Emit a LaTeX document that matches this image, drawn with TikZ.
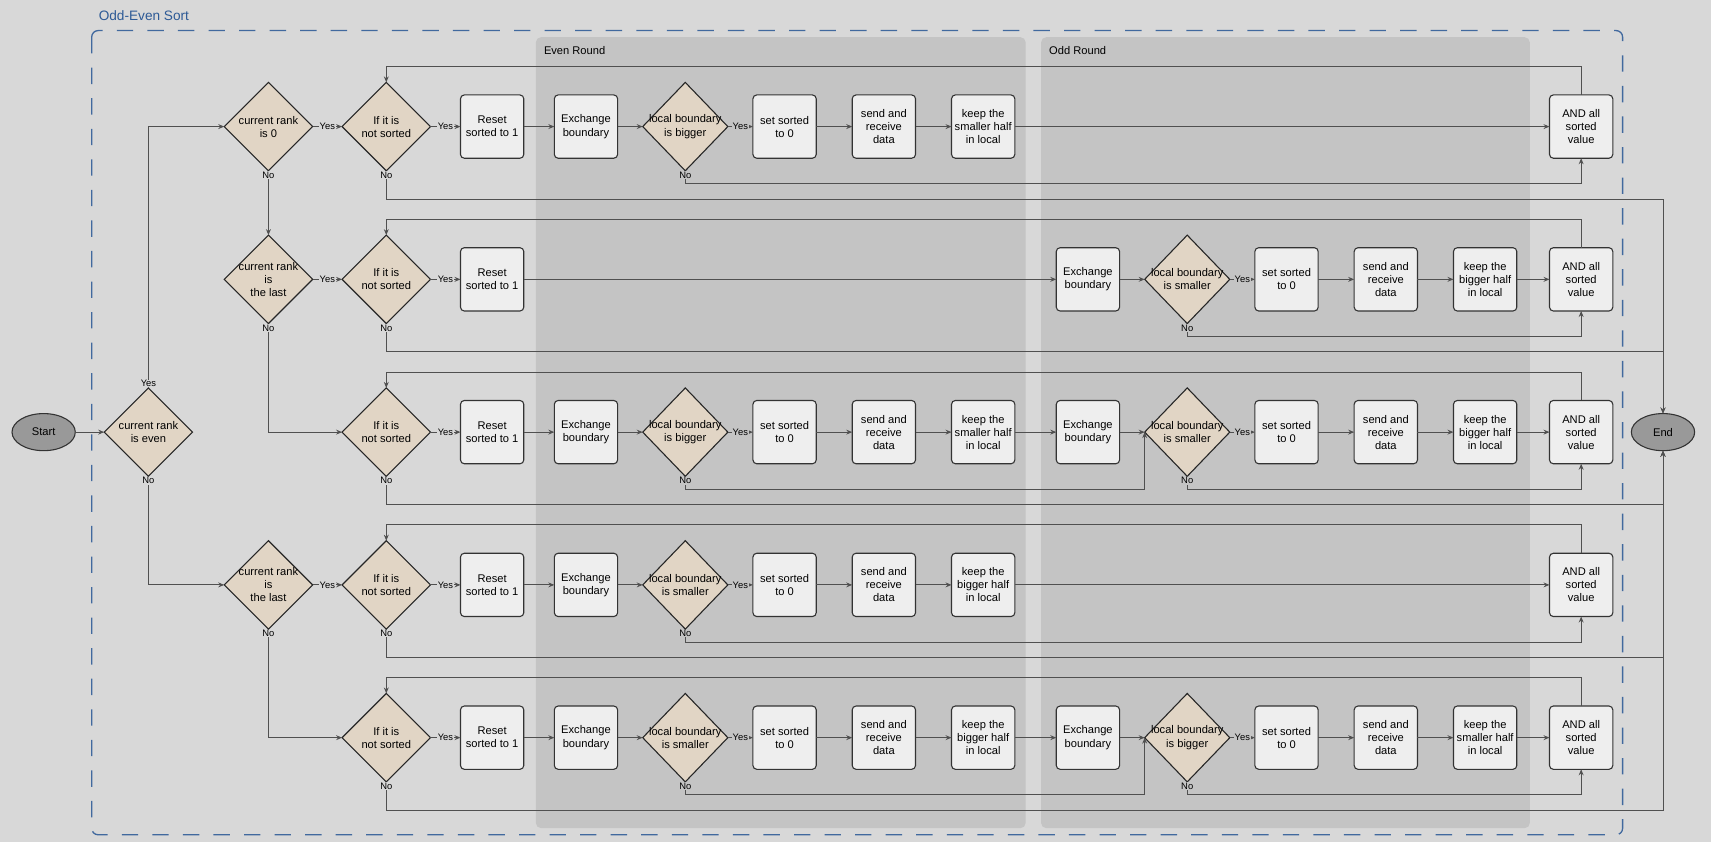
\documentclass[tikz,border=0pt]{standalone}
\usepackage{fontspec}
\setmainfont{Liberation Sans}
\usepackage{tikz}
\usetikzlibrary{positioning, arrows.meta, shapes}

\definecolor{bgc}{HTML}{D8D8D8}
\definecolor{panelc}{HTML}{C4C4C4}
\definecolor{boxc}{HTML}{EEEEEE}
\definecolor{decc}{HTML}{E1D5C5}
\definecolor{termc}{HTML}{999999}
\definecolor{linec}{HTML}{505050}
\definecolor{dashc}{HTML}{41699E}
\definecolor{titlec}{HTML}{2D5A96}

\tikzset{
	box/.style={rectangle, rounded corners=3.5pt, draw=black!80, line width=1pt, fill=boxc, minimum width=58, minimum height=58, inner sep=1pt, outer sep=0pt, align=center, font=\fontsize{10.2}{12}\selectfont},
	dec/.style={diamond, draw=black!85, line width=1pt, fill=decc, minimum width=81, minimum height=81, inner sep=-12pt, outer sep=0pt, align=center, font=\fontsize{10.2}{12}\selectfont},
	decb/.style={dec, minimum width=78},
	term/.style={ellipse, draw=black!80, line width=1pt, fill=termc, minimum width=58, minimum height=34, inner sep=0pt, outer sep=0pt, font=\fontsize{10.2}{12}\selectfont},
	link/.style={-{Stealth[length=5.5pt, width=4.5pt, inset=1.8pt]}, draw=linec, line width=0.9pt},
	lbl/.style={font=\fontsize{8.6}{9}\selectfont, inner sep=0.6pt, fill=bgc},
	lblp/.style={lbl, fill=panelc}
}

\begin{document}
\begin{tikzpicture}[x=1pt, y=-1pt]
		
		%Sfondo, round e cornice
		\fill[bgc] (0,0) rectangle (1568,772);
		\useasboundingbox (0,0) rectangle (1568,772);
		\fill[panelc, rounded corners=5pt] (491,34) rectangle (940,759);
		\fill[panelc, rounded corners=5pt] (954,34) rectangle (1402,759);
		\draw[dashc, line width=1.2pt, dash pattern=on 15pt off 13pt, rounded corners=6pt] (84,28) rectangle (1487,765);
		\node(Title) at (87,14) [anchor=west, text=titlec, font=\fontsize{12.5}{14}\selectfont]{Odd-Even Sort};
		\node(EvenRound) at (495,46) [anchor=west, font=\fontsize{10.2}{12}\selectfont]{Even Round};
		\node(OddRound) at (958,46) [anchor=west, font=\fontsize{10.2}{12}\selectfont]{Odd Round};
		
		%Inizio e fine
		\node(Start) at (40,396) [term]{Start};
		\node(End) at (1524,396) [term]{End};
		\node(RankEven) at (136,396) [dec]{current rank\\is even};
		
		%Prima riga
		\node(RankZero) at (246,116) [dec]{current rank\\is 0};
		\node(NotSorted1) at (354,116) [dec]{If it is\\not sorted};
		\node(Reset1) at (451,116) [box]{Reset\\sorted to 1};
		\node(ExchEven1) at (537,116) [box]{Exchange\\boundary};
		\node(CheckEven1) at (628,116) [decb]{local boundary\\is bigger};
		\node(SetEven1) at (719,116) [box]{set sorted\\to 0};
		\node(SendEven1) at (810,116) [box]{send and\\receive\\data};
		\node(KeepEven1) at (901,116) [box]{keep the\\smaller half\\in local};
		\node(And1) at (1449,116) [box]{AND all\\sorted\\value};
		
		%Seconda riga
		\node(RankLast2) at (246,256) [dec]{current rank\\is\\the last};
		\node(NotSorted2) at (354,256) [dec]{If it is\\not sorted};
		\node(Reset2) at (451,256) [box]{Reset\\sorted to 1};
		\node(ExchOdd2) at (997,256) [box]{Exchange\\boundary};
		\node(CheckOdd2) at (1088,256) [decb]{local boundary\\is smaller};
		\node(SetOdd2) at (1179,256) [box]{set sorted\\to 0};
		\node(SendOdd2) at (1270,256) [box]{send and\\receive\\data};
		\node(KeepOdd2) at (1361,256) [box]{keep the\\bigger half\\in local};
		\node(And2) at (1449,256) [box]{AND all\\sorted\\value};
		
		%Terza riga
		\node(NotSorted3) at (354,396) [dec]{If it is\\not sorted};
		\node(Reset3) at (451,396) [box]{Reset\\sorted to 1};
		\node(ExchEven3) at (537,396) [box]{Exchange\\boundary};
		\node(CheckEven3) at (628,396) [decb]{local boundary\\is bigger};
		\node(SetEven3) at (719,396) [box]{set sorted\\to 0};
		\node(SendEven3) at (810,396) [box]{send and\\receive\\data};
		\node(KeepEven3) at (901,396) [box]{keep the\\smaller half\\in local};
		\node(ExchOdd3) at (997,396) [box]{Exchange\\boundary};
		\node(CheckOdd3) at (1088,396) [decb]{local boundary\\is smaller};
		\node(SetOdd3) at (1179,396) [box]{set sorted\\to 0};
		\node(SendOdd3) at (1270,396) [box]{send and\\receive\\data};
		\node(KeepOdd3) at (1361,396) [box]{keep the\\bigger half\\in local};
		\node(And3) at (1449,396) [box]{AND all\\sorted\\value};
		
		%Quarta riga
		\node(RankLast4) at (246,536) [dec]{current rank\\is\\the last};
		\node(NotSorted4) at (354,536) [dec]{If it is\\not sorted};
		\node(Reset4) at (451,536) [box]{Reset\\sorted to 1};
		\node(ExchEven4) at (537,536) [box]{Exchange\\boundary};
		\node(CheckEven4) at (628,536) [decb]{local boundary\\is smaller};
		\node(SetEven4) at (719,536) [box]{set sorted\\to 0};
		\node(SendEven4) at (810,536) [box]{send and\\receive\\data};
		\node(KeepEven4) at (901,536) [box]{keep the\\bigger half\\in local};
		\node(And4) at (1449,536) [box]{AND all\\sorted\\value};
		
		%Quinta riga
		\node(NotSorted5) at (354,676) [dec]{If it is\\not sorted};
		\node(Reset5) at (451,676) [box]{Reset\\sorted to 1};
		\node(ExchEven5) at (537,676) [box]{Exchange\\boundary};
		\node(CheckEven5) at (628,676) [decb]{local boundary\\is smaller};
		\node(SetEven5) at (719,676) [box]{set sorted\\to 0};
		\node(SendEven5) at (810,676) [box]{send and\\receive\\data};
		\node(KeepEven5) at (901,676) [box]{keep the\\bigger half\\in local};
		\node(ExchOdd5) at (997,676) [box]{Exchange\\boundary};
		\node(CheckOdd5) at (1088,676) [decb]{local boundary\\is bigger};
		\node(SetOdd5) at (1179,676) [box]{set sorted\\to 0};
		\node(SendOdd5) at (1270,676) [box]{send and\\receive\\data};
		\node(KeepOdd5) at (1361,676) [box]{keep the\\smaller half\\in local};
		\node(And5) at (1449,676) [box]{AND all\\sorted\\value};
		
		%Collegamenti di scelta del rank
		\draw[link] (Start) -- (RankEven);
		\draw[link] (RankEven.north) |- node[lbl, at start, above]{Yes} (RankZero.west);
		\draw[link] (RankEven.south) |- node[lbl, at start, below]{No} (RankLast4.west);
		\draw[link] (RankZero) -- node[lbl]{Yes} (NotSorted1);
		\draw[link] (RankZero.south) -- node[lbl, at start, below]{No} (RankLast2.north);
		\draw[link] (RankLast2) -- node[lbl]{Yes} (NotSorted2);
		\draw[link] (RankLast2.south) |- node[lbl, at start, below]{No} (NotSorted3.west);
		\draw[link] (RankLast4) -- node[lbl]{Yes} (NotSorted4);
		\draw[link] (RankLast4.south) |- node[lbl, at start, below]{No} (NotSorted5.west);
		
		%Collegamenti comuni a tutte le righe
		\foreach \i/\e in {1/north, 2/north, 3/south, 4/south, 5/south}{
			\draw[link] (NotSorted\i) -- node[lbl]{Yes} (Reset\i);
			\draw[link] (NotSorted\i.south) -- node[lbl, at start, below]{No} ++(0,26) -| (End.\e);
			\draw[link] (And\i.north) -- ++(0,-26) -| (NotSorted\i.north);
		}
		
		%Round pari
		\foreach \i in {1,3,4,5}{
			\draw[link] (Reset\i) -- (ExchEven\i);
			\draw[link] (ExchEven\i) -- (CheckEven\i);
			\draw[link] (CheckEven\i) -- node[lblp]{Yes} (SetEven\i);
			\draw[link] (SetEven\i) -- (SendEven\i);
			\draw[link] (SendEven\i) -- (KeepEven\i);
		}
		\draw[link] (KeepEven1) -- (And1);
		\draw[link] (KeepEven4) -- (And4);
		\draw[link] (KeepEven3) -- (ExchOdd3);
		\draw[link] (KeepEven5) -- (ExchOdd5);
		\draw[link] (CheckEven1.south) -- node[lblp, at start, below]{No} ++(0,12) -| (And1.south);
		\draw[link] (CheckEven4.south) -- node[lblp, at start, below]{No} ++(0,12) -| (And4.south);
		\draw[link] (CheckEven3.south) -- node[lblp, at start, below]{No} ++(0,12) -| (CheckOdd3.west);
		\draw[link] (CheckEven5.south) -- node[lblp, at start, below]{No} ++(0,12) -| (CheckOdd5.west);
		
		%Round dispari
		\draw[link] (Reset2) -- (ExchOdd2);
		\foreach \i in {2,3,5}{
			\draw[link] (ExchOdd\i) -- (CheckOdd\i);
			\draw[link] (CheckOdd\i) -- node[lblp]{Yes} (SetOdd\i);
			\draw[link] (SetOdd\i) -- (SendOdd\i);
			\draw[link] (SendOdd\i) -- (KeepOdd\i);
			\draw[link] (KeepOdd\i) -- (And\i);
			\draw[link] (CheckOdd\i.south) -- node[lblp, at start, below]{No} ++(0,12) -| (And\i.south);
		}
		
\end{tikzpicture}
\end{document}
